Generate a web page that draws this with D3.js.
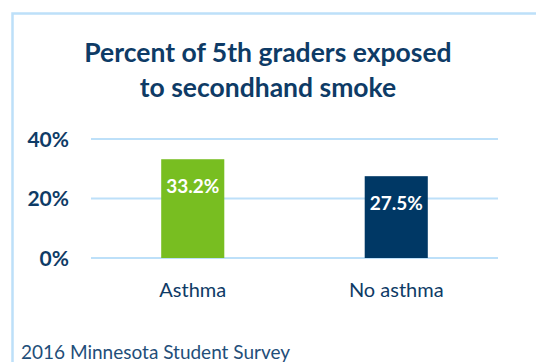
<!DOCTYPE html>
<html><head><meta charset="utf-8">
<script src="https://cdn.jsdelivr.net/npm/d3@7"></script>
<style>body{margin:0;background:#fff;overflow:hidden}svg{display:block}</style>
</head><body>
<script>
const categories = ["Asthma", "No asthma"];
const values = [33.2, 27.5];
const barColors = ["#78BE21", "#003865"];
const yTicks = [0, 20, 40];
const titleLines = ["Percent of 5th graders exposed", "to secondhand smoke"];
const footer = "2016 Minnesota Student Survey";

const W = 536, H = 362;
const navy = "#0E3B66";
const font = "Lato, 'Open Sans', sans-serif";
const svg = d3.select("body").append("svg").attr("width", W).attr("height", H);

// frame
svg.append("path").attr("d", `M12.5,${H} V13.5 H${W}`)
  .attr("fill", "none").attr("stroke", "#BDE0F9").attr("stroke-width", 2.5);

// title
svg.append("g").selectAll("text").data(titleLines).join("text")
  .attr("x", 268).attr("y", (d, i) => 62 + i * 35)
  .attr("text-anchor", "middle").attr("font-family", font)
  .attr("font-weight", "bold").attr("font-size", 26.5).attr("fill", navy)
  .text(d => d);

const x = d3.scaleBand().domain(categories).range([91, 498]).paddingInner(0.69).paddingOuter(0.345);
const y = d3.scaleLinear().domain([0, 40]).range([258, 139]);

// grid
svg.append("g").selectAll("line").data(yTicks).join("line")
  .attr("x1", 91).attr("x2", 498)
  .attr("y1", d => y(d)).attr("y2", d => y(d))
  .attr("stroke", "#BDE0F9").attr("stroke-width", 2);

// y labels
svg.append("g").selectAll("text").data(yTicks).join("text")
  .attr("x", 69).attr("y", d => y(d)).attr("dy", "0.36em")
  .attr("text-anchor", "end").attr("font-family", font)
  .attr("font-weight", "bold").attr("font-size", 21).attr("fill", navy)
  .text(d => d + "%");

// bars
svg.append("g").selectAll("rect").data(values).join("rect")
  .attr("x", (d, i) => x(categories[i])).attr("width", x.bandwidth())
  .attr("y", d => y(d)).attr("height", d => y(0) - y(d))
  .attr("fill", (d, i) => barColors[i]);

// value labels
svg.append("g").selectAll("text").data(values).join("text")
  .attr("x", (d, i) => x(categories[i]) + x.bandwidth() / 2)
  .attr("y", d => y(d) + 27).attr("dy", "0.36em")
  .attr("text-anchor", "middle").attr("font-family", font)
  .attr("font-weight", "bold").attr("font-size", 19).attr("fill", "#fff")
  .text(d => d.toFixed(1) + "%");

// category labels
svg.append("g").selectAll("text").data(categories).join("text")
  .attr("x", d => x(d) + x.bandwidth() / 2).attr("y", 290).attr("dy", "0.36em")
  .attr("text-anchor", "middle").attr("font-family", font)
  .attr("font-size", 20).attr("fill", navy)
  .text(d => d);

// footer
svg.append("text").attr("x", 21).attr("y", 359)
  .attr("font-family", font).attr("font-size", 19).attr("fill", "#1F4E79")
  .text(footer);
</script>
</body></html>
